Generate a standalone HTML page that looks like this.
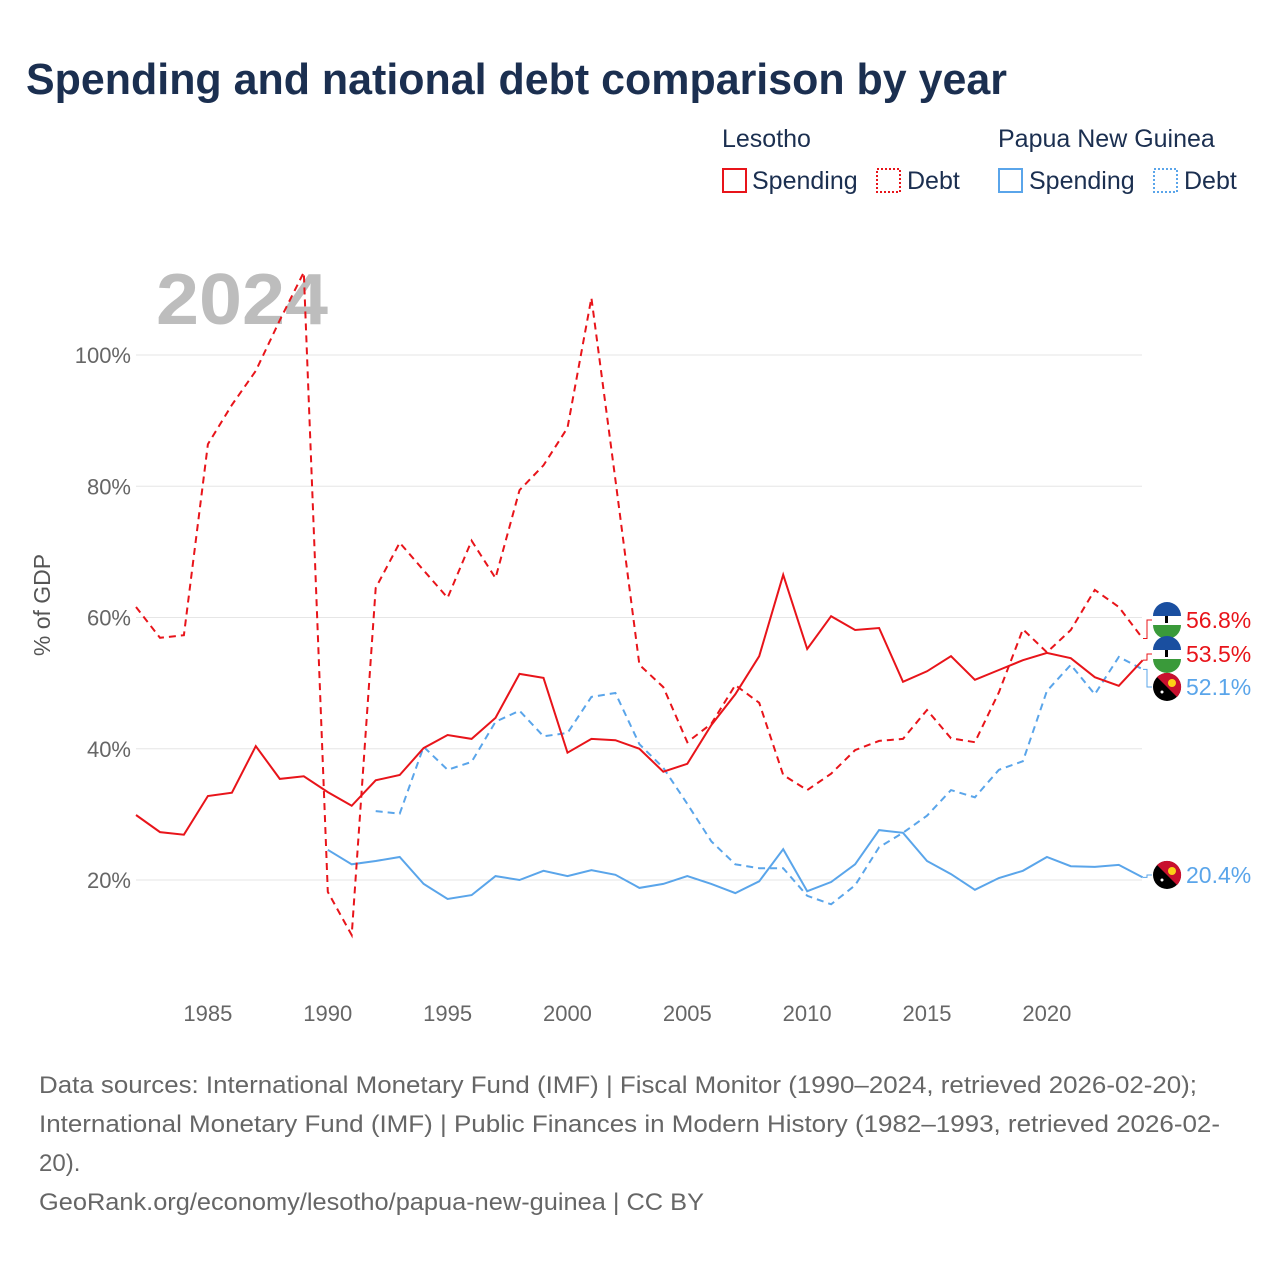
<!DOCTYPE html>
<html><head><meta charset="utf-8"><style>
body{margin:0;background:#fff;width:1280px;height:1280px;overflow:hidden;font-family:"Liberation Sans",sans-serif}
svg text{font-family:"Liberation Sans",sans-serif}
</style></head><body>
<svg id="chart" width="1280" height="1280">
<text x="26" y="94" font-size="44" font-weight="bold" fill="#1b2f50" textLength="981" lengthAdjust="spacingAndGlyphs">Spending and national debt comparison by year</text>
<g font-size="25" fill="#1b2f50">
<text x="722" y="147">Lesotho</text>
<text x="998" y="147">Papua New Guinea</text>
<g><rect x="723" y="169" width="23" height="23" fill="none" stroke="#e8141a" stroke-width="2"/><text x="752" y="189">Spending</text></g>
<g><rect x="877" y="169" width="23" height="23" fill="none" stroke="#e8141a" stroke-width="2" stroke-dasharray="2,2"/><text x="907" y="189">Debt</text></g>
<g><rect x="999" y="169" width="23" height="23" fill="none" stroke="#5aa5ea" stroke-width="2"/><text x="1029" y="189">Spending</text></g>
<g><rect x="1154" y="169" width="23" height="23" fill="none" stroke="#5aa5ea" stroke-width="2" stroke-dasharray="2,2"/><text x="1184" y="189">Debt</text></g>
</g>
<text x="156" y="324" font-size="72" font-weight="bold" fill="#bdbdbd" textLength="172" lengthAdjust="spacingAndGlyphs">2024</text>
<text transform="translate(50,605) rotate(-90)" text-anchor="middle" font-size="23" fill="#555">% of GDP</text>
<g id="grid"></g><g id="lines"></g><g id="ends"></g>
<g font-size="24" fill="#666">
<text x="39" y="1093" textLength="1158" lengthAdjust="spacingAndGlyphs">Data sources: International Monetary Fund (IMF) | Fiscal Monitor (1990–2024, retrieved 2026-02-20);</text>
<text x="39" y="1132" textLength="1181" lengthAdjust="spacingAndGlyphs">International Monetary Fund (IMF) | Public Finances in Modern History (1982–1993, retrieved 2026-02-</text>
<text x="39" y="1171">20).</text>
<text x="39" y="1210" textLength="665" lengthAdjust="spacingAndGlyphs">GeoRank.org/economy/lesotho/papua-new-guinea | CC BY</text>
</g>
</svg>
<script>
const yTicks=[20,40,60,80,100];
const xTicks=[1985,1990,1995,2000,2005,2010,2015,2020];
const lsoSpendStart=1982;
const lsoSpending=[29.9,27.3,26.9,32.8,33.3,40.4,35.4,35.8,33.4,31.3,35.2,36.0,40.1,42.1,41.5,44.7,51.4,50.8,39.4,41.5,41.3,40.0,36.5,37.7,43.6,48.3,54.1,66.5,55.2,60.2,58.1,58.4,50.2,51.8,54.1,50.5,52.0,53.5,54.6,53.8,50.9,49.6,53.5];
const lsoDebtStart=1982;
const lsoDebt=[61.6,56.9,57.3,86.4,92.4,97.6,105.3,112.6,18.2,11.6,64.5,71.4,67.2,63.0,71.7,66.0,79.4,83.2,88.9,108.7,81.0,52.8,49.4,41.0,43.8,49.7,47.0,36.0,33.7,36.2,39.8,41.2,41.5,45.9,41.6,41.0,48.6,58.2,54.7,58.1,64.2,61.6,56.8];
const pngSpendStart=1990;
const pngSpending=[24.6,22.4,22.9,23.5,19.4,17.1,17.7,20.6,20.0,21.4,20.6,21.5,20.8,18.8,19.4,20.6,19.4,18.0,19.8,24.7,18.3,19.7,22.4,27.6,27.2,22.9,20.9,18.5,20.3,21.4,23.5,22.1,22.0,22.3,20.4];
const pngDebtStart=1992;
const pngDebt=[30.5,30.1,40.3,36.8,38.0,44.1,45.8,41.9,42.4,47.9,48.5,40.7,37.1,31.6,25.9,22.4,21.8,21.8,17.6,16.3,19.2,25.0,27.2,29.8,33.7,32.6,36.8,38.1,48.8,52.8,48.3,54.0,52.1];
const NS='http://www.w3.org/2000/svg';
const x=yr=>136+(yr-1982)*23.97;
const y=v=>880-(v-20)*6.5625;
function mk(t,a,p){const e=document.createElementNS(NS,t);for(const k in a)e.setAttribute(k,a[k]);p.appendChild(e);return e;}
const grid=document.getElementById('grid');
yTicks.forEach(v=>{
 const l=mk('line',{x1:136,x2:1142,y1:y(v),y2:y(v),stroke:'#e6e6e6','stroke-width':1},grid);
 
 
 const t=mk('text',{x:131,y:y(v)+8,'text-anchor':'end','font-size':22,fill:'#666'},grid);
 t.textContent=v+'%';
 
 
});
xTicks.forEach(v=>{
 const t=mk('text',{x:x(v),y:1021,'text-anchor':'middle','font-size':22,fill:'#666'},grid);
 t.textContent=v;
 
 
});
const lines=document.getElementById('lines');
function series(arr,start,color,dash,name){
 const d=arr.map((v,i)=>(i?'L':'M')+x(start+i).toFixed(1)+','+y(v).toFixed(1)).join('');
 const p=mk('path',{d:d,fill:'none',stroke:color,'stroke-width':2,'stroke-dasharray':dash},lines);
 
 
}
series(pngDebt,pngDebtStart,'#5aa5ea','7,5','line-png-debt');
series(pngSpending,pngSpendStart,'#5aa5ea','none','line-png-spending');
series(lsoDebt,lsoDebtStart,'#e8141a','7,5','line-lesotho-debt');
series(lsoSpending,lsoSpendStart,'#e8141a','none','line-lesotho-spending');
const ends=document.getElementById('ends');
function endLabel(val,ly,color,flag,name){
 const vy=y(val);
 mk('path',{d:`M1143,${vy}H1147V${ly}H1152`,fill:'none',stroke:color,'stroke-width':1},ends);
 const g=mk('g',{},ends);
 
 
 if(flag==='lso'){
  mk('circle',{cx:1167,cy:ly,r:14,fill:'#fff'},g);
  mk('path',{d:`M1153,${ly-4}A14,14 0 0 1 1181,${ly-4}Z`,fill:'#1a4fa0'},g);
  mk('path',{d:`M1153,${ly+5}A14,14 0 0 0 1181,${ly+5}Z`,fill:'#3a9a3a'},g);
  mk('rect',{x:1165,y:ly-4,width:3,height:7,fill:'#000'},g);
 }else{
  mk('circle',{cx:1167,cy:ly,r:14,fill:'#000'},g);
  mk('path',{d:`M1157,${ly-10}A14,14 0 0 1 1177,${ly+10}Z`,fill:'#c8102e'},g);
  mk('circle',{cx:1172,cy:ly-4,r:4,fill:'#fcd116'},g);
  mk('circle',{cx:1162,cy:ly+5,r:1.5,fill:'#fff'},g);
 }
 const t=mk('text',{x:1186,y:ly+8,'font-size':23,fill:color},g);
 t.textContent=val.toFixed(1)+'%';
}
endLabel(lsoDebt[lsoDebt.length-1],620,'#e8141a','lso','end-label-lesotho-debt');
endLabel(lsoSpending[lsoSpending.length-1],654,'#e8141a','lso','end-label-lesotho-spending');
endLabel(pngDebt[pngDebt.length-1],687,'#5aa5ea','png','end-label-png-debt');
endLabel(pngSpending[pngSpending.length-1],875,'#5aa5ea','png','end-label-png-spending');
</script>
</body></html>
